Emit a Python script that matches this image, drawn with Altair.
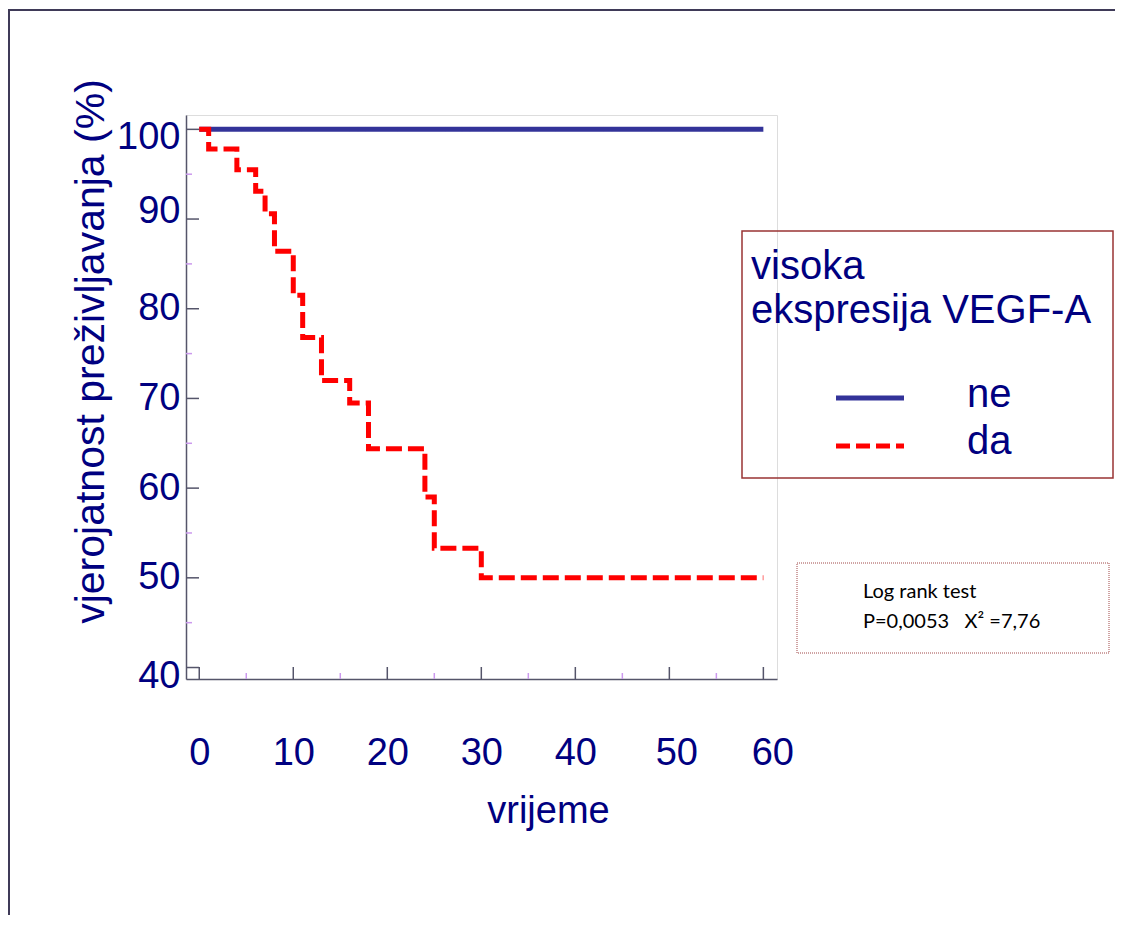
import altair as alt
import pandas as pd

# ---- data ----
ne_time = [0, 60]
ne_surv = [100, 100]
da_time = [0, 1, 4, 6, 7, 8, 10, 11, 13, 16, 18, 24, 25, 30, 60]
da_surv = [100, 97.8, 95.5, 93.1, 90.6, 86.4, 81.5, 76.8, 72.0, 69.5, 64.4, 59.0, 53.3, 50.0, 50.0]
groups = ["ne", "da"]
group_colors = ["#333399", "#ff0000"]
group_dashes = [[1, 0], [16, 6]]
legend_title = ["visoka", "ekspresija VEGF-A"]
x_major = [0, 10, 20, 30, 40, 50, 60]
x_minor = [5, 15, 25, 35, 45, 55]
y_major = [40, 50, 60, 70, 80, 90, 100]
y_minor = [45, 55, 65, 75, 85, 95]
test_line1 = "Log rank test"
test_line2 = "P=0,0053\u00a0\u00a0\u00a0X\u00b2 =7,76"

NAVY = "#000080"
FONT = "Liberation Sans"
W, H = 591, 564

df = pd.DataFrame(
    {"t": ne_time + da_time,
     "s": ne_surv + da_surv,
     "g": ["ne"] * len(ne_time) + ["da"] * len(da_time)}
)

xs = alt.Scale(domain=[-1.41, 61.45], nice=False, zero=False)
ys = alt.Scale(domain=[38.72, 101.6], nice=False, zero=False)

color = alt.Color("g:N", scale=alt.Scale(domain=groups, range=group_colors), legend=None)
dash = alt.StrokeDash("g:N", scale=alt.Scale(domain=groups, range=group_dashes), legend=None)

x_axis = alt.Axis(
    values=x_major, grid=False, ticks=False, domainColor="#55556a", domainWidth=1.5,
    labelFont=FONT, labelFontSize=38, labelColor=NAVY, labelBaseline="alphabetic",
    labelPadding=85, labelFlush=False, labelOverlap=False,
    labelOffset={"condition": [{"test": "datum.value == 50", "value": 7},
                               {"test": "datum.value == 60", "value": 9}], "value": 0},
    title="vrijeme", titleFont=FONT, titleFontSize=38, titleFontWeight="normal",
    titleColor=NAVY, titleX=362, titleY=143, titleBaseline="alphabetic", titleAlign="center",
)
y_axis = alt.Axis(
    values=y_major, grid=False, ticks=False, domainColor="#55556a", domainWidth=1.5,
    labelFont=FONT, labelFontSize=38, labelColor=NAVY, labelAlign="right",
    labelBaseline="middle", labelPadding=6, labelFlush=False, labelOverlap=False,
    labelOffset={"condition": [{"test": "datum.value == 100", "value": 8},
                               {"test": "datum.value == 90", "value": -8},
                               {"test": "datum.value == 40", "value": 9}], "value": 0},
    title="vjerojatnost preživljavanja (%)", titleFont=FONT, titleFontSize=41,
    titleFontWeight="normal", titleColor=NAVY, titleAngle=270,
    titleX=-83, titleY=236, titleBaseline="alphabetic", titleAlign="center",
)


def X(field):
    return alt.X(field, scale=xs, axis=x_axis)


def Y(field):
    return alt.Y(field, scale=ys, axis=y_axis)


base = alt.Chart(df)
ne_line = base.transform_filter(alt.datum.g == "ne").mark_line(
    strokeWidth=5, interpolate="step-after", strokeCap="butt"
).encode(x=X("t:Q"), y=Y("s:Q"), color=color, strokeDash=dash)
da_line = base.transform_filter(alt.datum.g == "da").mark_line(
    strokeWidth=5, interpolate="step-after", strokeCap="butt"
).encode(x=X("t:Q"), y=Y("s:Q"), color=color, strokeDash=dash)

xmaj = alt.Chart(pd.DataFrame({"t": x_major})).mark_rule(color="#55556a", strokeWidth=1.5).encode(
    x=X("t:Q"), y=alt.value(H), y2=alt.value(H - 12))
xmin = alt.Chart(pd.DataFrame({"t": x_minor})).mark_rule(color="#cc99ee", strokeWidth=1.5).encode(
    x=X("t:Q"), y=alt.value(H), y2=alt.value(H - 6))
ymaj = alt.Chart(pd.DataFrame({"s": y_major})).mark_rule(color="#55556a", strokeWidth=1.5).encode(
    y=Y("s:Q"), x=alt.value(0), x2=alt.value(13))
ymin = alt.Chart(pd.DataFrame({"s": y_minor})).mark_rule(color="#cc99ee", strokeWidth=1.5).encode(
    y=Y("s:Q"), x=alt.value(0), x2=alt.value(6))

one = pd.DataFrame({"a": [0]})

# ---- legend (drawn as marks, positioned in pixels) ----
legend_box = alt.Chart(one).mark_rect(fill="white", fillOpacity=0, stroke="#993333", strokeWidth=1.5).encode(
    x=alt.value(556), x2=alt.value(927), y=alt.value(116), y2=alt.value(363))
leg_layers = [legend_box]
for i, line in enumerate(legend_title):
    leg_layers.append(alt.Chart(one).mark_text(
        align="left", baseline="alphabetic", font=FONT, fontSize=40, color=NAVY, text=line
    ).encode(x=alt.value(565), y=alt.value(164 + 44 * i)))
for i, g in enumerate(groups):
    yy = 283 + 48 * i
    leg_layers.append(alt.Chart(one).mark_rule(
        color=group_colors[i], strokeWidth=5, strokeDash=[14, 6] if i == 1 else [1, 0], strokeCap="butt"
    ).encode(x=alt.value(650), x2=alt.value(718), y=alt.value(yy)))
    leg_layers.append(alt.Chart(one).mark_text(
        align="left", baseline="alphabetic", font=FONT, fontSize=40, color=NAVY, text=g
    ).encode(x=alt.value(781), y=alt.value(yy + 9 + (-1 if i == 1 else 0))))

test_box = alt.Chart(one).mark_rect(fill="white", fillOpacity=0, stroke="#a04848", strokeWidth=1,
                                    strokeDash=[1, 1]).encode(
    x=alt.value(611), x2=alt.value(923), y=alt.value(448), y2=alt.value(538))
test_t1 = alt.Chart(one).mark_text(
    align="left", baseline="alphabetic", font="Lato", fontSize=20, color="black", text=test_line1
).encode(x=alt.value(677), y=alt.value(483))
test_t2 = alt.Chart(one).mark_text(
    align="left", baseline="alphabetic", font="Lato", fontSize=20, color="black", text=test_line2
).encode(x=alt.value(677), y=alt.value(513))

border_top = alt.Chart(one).mark_rule(color="#3f3a58", strokeWidth=2).encode(
    x=alt.value(-178), x2=alt.value(935), y=alt.value(-105))
border_left = alt.Chart(one).mark_rule(color="#3f3a58", strokeWidth=2).encode(
    x=alt.value(-177), y=alt.value(-106), y2=alt.value(800))

chart = alt.layer(
    border_top, border_left, *leg_layers, test_box, test_t1, test_t2,
    xmin, ymin, xmaj, ymaj, ne_line, da_line
).properties(
    width=W, height=H,
    autosize=alt.AutoSizeParams(type="none"),
    padding={"left": 178, "top": 107, "right": 338, "bottom": 239},
).configure_view(stroke=None).configure(background="white")

chart.save("out.html", embed_options={"renderer": "svg", "actions": False})
